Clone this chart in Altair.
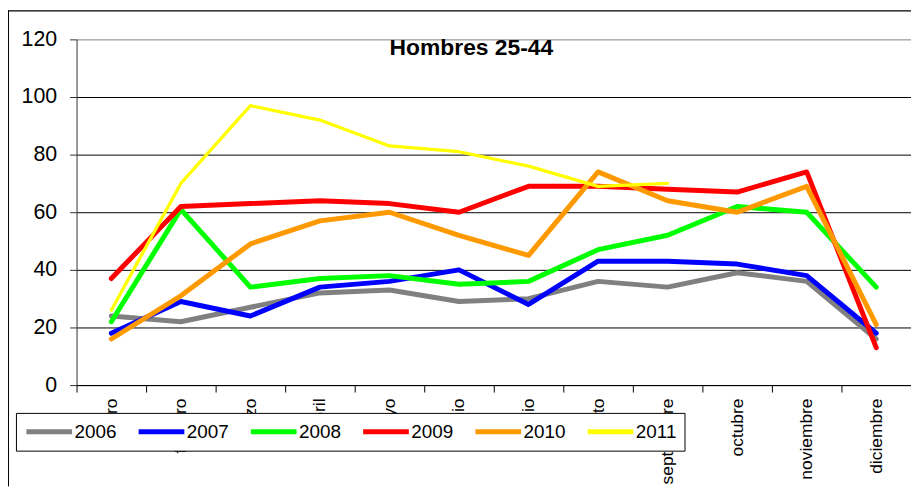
import altair as alt
import pandas as pd

months = ["enero", "febrero", "marzo", "abril", "mayo", "junio", "julio",
          "agosto", "septiembre", "octubre", "noviembre", "diciembre"]
years = ["2006", "2007", "2008", "2009", "2010", "2011"]
colors = ["#808080", "#0000FF", "#00FF00", "#FF0000", "#FF9900", "#FFFF00"]

s2006 = [24, 22, 27, 32, 33, 29, 30, 36, 34, 39, 36, 16]
s2007 = [18, 29, 24, 34, 36, 40, 28, 43, 43, 42, 38, 18]
s2008 = [22, 61, 34, 37, 38, 35, 36, 47, 52, 62, 60, 34]
s2009 = [37, 62, 63, 64, 63, 60, 69, 69, 68, 67, 74, 13]
s2010 = [16, 31, 49, 57, 60, 52, 45, 74, 64, 60, 69, 21]
s2011 = [26, 70, 97, 92, 83, 81, 76, 69, 70]

title_text = "Hombres 25-44"
y_ticks = [0, 20, 40, 60, 80, 100, 120]

series = [s2006, s2007, s2008, s2009, s2010, s2011]
rows = []
for yr, vals in zip(years, series):
    for i, v in enumerate(vals):
        rows.append({"mes": months[i], "year": yr, "valor": v, "orden": i})
df = pd.DataFrame(rows)

FONT = "Liberation Sans"
W, H = 840, 348
PAD_L, PAD_T, PAD_B = 69, 30, 102

lines = alt.Chart(df).mark_line(strokeCap="round", strokeJoin="round").encode(
    x=alt.X("mes:O", sort=months, bandPosition=0.5,
            scale=alt.Scale(type="band", paddingInner=0, paddingOuter=0),
            axis=alt.Axis(title=None, tickBand="extent", labelAngle=270,
                          labelFontSize=17.5, labelFont=FONT, labelColor="black",
                          tickSize=7, tickColor="black", domainColor="black",
                          labelPadding=6, grid=False)),
    y=alt.Y("valor:Q", scale=alt.Scale(domain=[0, 120], nice=False),
            axis=alt.Axis(title=None, values=y_ticks, labelFontSize=21.5,
                          labelFont=FONT, labelColor="black", tickSize=7,
                          tickColor="#333333", domainColor="#333333",
                          labelPadding=13, grid=True,
                          gridColor={"condition": {"test": "datum.value == 120", "value": "#808080"},
                                     "value": "black"},
                          gridWidth=1)),
    color=alt.Color("year:N", scale=alt.Scale(domain=years, range=colors),
                    legend=alt.Legend(title=None, orient="none", legendX=-61, legendY=376,
                                      direction="horizontal", fillColor="white",
                                      strokeColor="black", padding=8,
                                      symbolType="stroke", symbolSize=2116,
                                      symbolStrokeWidth=5, labelFontSize=19,
                                      labelFont=FONT, labelColor="black",
                                      labelOffset=0, columnPadding=19, clipHeight=22)),
    strokeWidth=alt.condition(alt.datum.year == "2011", alt.value(3.3), alt.value(5)),
    order="orden:Q",
)

one = pd.DataFrame({"t": [title_text]})
title = alt.Chart(one).mark_text(font=FONT, fontSize=23, fontWeight="bold",
                                 color="black", align="center", baseline="middle").encode(
    x=alt.value(397.5), y=alt.value(9), text="t:N")

top_border = alt.Chart(one).mark_rule(color="black", strokeWidth=1.5).encode(
    x=alt.value(-PAD_L), x2=alt.value(W), y=alt.value(-28.7))
left_border = alt.Chart(one).mark_rule(color="black", strokeWidth=1).encode(
    x=alt.value(-68.5), y=alt.value(-29), y2=alt.value(H + PAD_B))

chart = alt.layer(lines, title, top_border, left_border).properties(
    width=W, height=H,
    autosize=alt.AutoSizeParams(type="none"),
    padding={"left": PAD_L, "top": PAD_T, "right": 0, "bottom": PAD_B},
).configure_view(stroke="transparent")

chart.save("out.html", embed_options={"renderer": "svg", "actions": False})
